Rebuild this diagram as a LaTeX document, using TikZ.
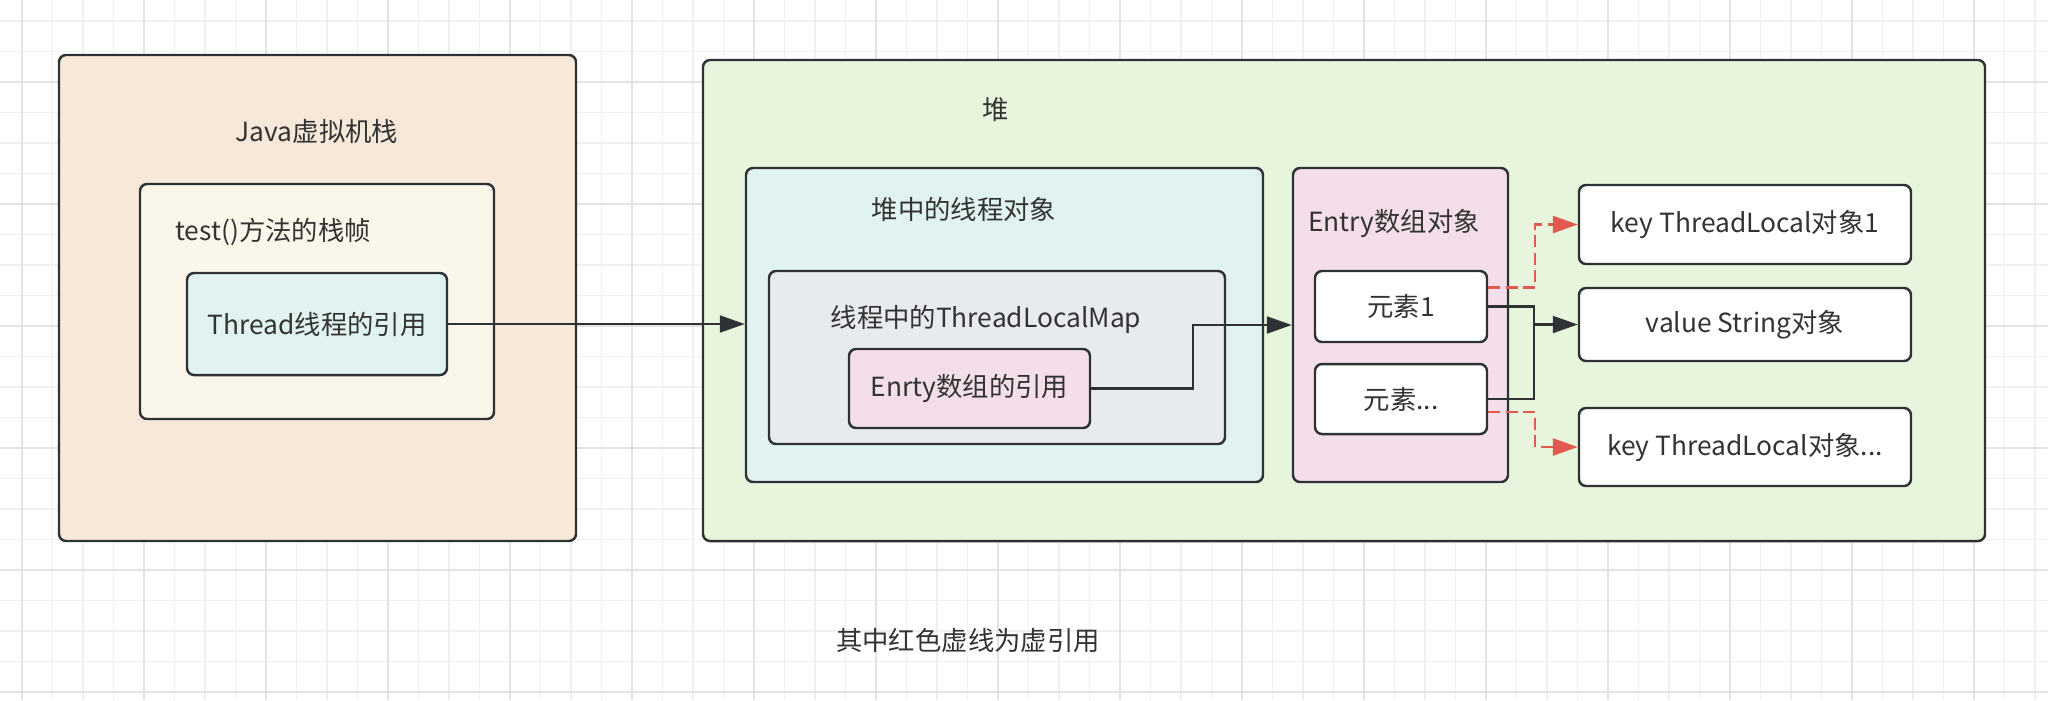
\documentclass[tikz,border=0pt]{standalone}
\usepackage{fontspec}
\setmainfont{Noto Sans CJK SC}
\usetikzlibrary{arrows.meta}
\definecolor{borde}{HTML}{2F3235}
\definecolor{textoGris}{HTML}{333333}
\definecolor{rojoDebil}{HTML}{E05A50}
\definecolor{fondoPila}{HTML}{F7E9DA}
\definecolor{fondoMarco}{HTML}{FAF7EA}
\definecolor{fondoHeap}{HTML}{E7F5DC}
\definecolor{fondoHilo}{HTML}{E0F3F1}
\definecolor{fondoMapa}{HTML}{E7EAEE}
\definecolor{fondoRosa}{HTML}{F3DEEA}
\definecolor{rejillaMenor}{HTML}{F0F0F0}
\definecolor{rejillaMayor}{HTML}{E3E3E3}

\begin{document}
\begin{tikzpicture}[font=\fontsize{7.5}{9}\selectfont, text=textoGris,
        >={Triangle[length=2.5mm, width=1.7mm]},
        caja/.style={draw=borde, line width=0.7pt, rounded corners=2pt, inner sep=0pt},
        conn/.style={->, draw=borde, line width=0.6pt},
        linea/.style={draw=borde, line width=0.6pt},
        debil/.style={->, draw=rojoDebil, line width=0.7pt, dash pattern=on 1.2mm off 0.55mm}]
        \useasboundingbox (0,0) rectangle (20.48,-7);
        \fill[white] (0,0) rectangle (20.48,-7);
        % rejilla de fondo
        \foreach \i in {0,...,66} \draw[rejillaMenor, line width=0.45pt] ({0.22+0.305*\i},0) -- ++(0,-7);
        \foreach \j in {0,...,22} \draw[rejillaMenor, line width=0.45pt] (0,{-0.21-0.305*\j}) -- ++(20.48,0);
        \foreach \i in {0,...,16} \draw[rejillaMayor, line width=0.5pt] ({0.22+1.22*\i},0) -- ++(0,-7);
        \foreach \j in {0,...,5} \draw[rejillaMayor, line width=0.5pt] (0,{-0.82-1.22*\j}) -- ++(20.48,0);

        % pila de la JVM
        \node[caja, fill=fondoPila, minimum width=5.17cm, minimum height=4.86cm] (pila) at (3.175,-2.98) {};
        \node (tPila) at (3.17,-1.31) {Java虚拟机栈};
        \node[caja, fill=fondoMarco, minimum width=3.54cm, minimum height=2.35cm] (marco) at (3.17,-3.015) {};
        \node[anchor=west] (tMarco) at (1.63,-2.32) {test()方法的栈帧};
        \node[caja, fill=fondoHilo, minimum width=2.6cm, minimum height=1.02cm] (tref) at (3.17,-3.24) {Thread线程的引用};

        % heap
        \node[caja, fill=fondoHeap, minimum width=12.82cm, minimum height=4.81cm] (heap) at (13.44,-3.005) {};
        \node (tHeap) at (9.96,-1.10) {堆};
        \node[caja, fill=fondoHilo, minimum width=5.17cm, minimum height=3.14cm] (hilo) at (10.045,-3.25) {};
        \node (tHilo) at (9.64,-2.09) {堆中的线程对象};
        \node[caja, fill=fondoMapa, minimum width=4.56cm, minimum height=1.73cm] (mapa) at (9.97,-3.575) {};
        \node (tMapa) at (9.86,-3.19) {线程中的ThreadLocalMap};
        \node[caja, fill=fondoRosa, minimum width=2.41cm, minimum height=0.79cm] (eref) at (9.695,-3.885) {Enrty数组的引用};
        \node[caja, fill=fondoRosa, minimum width=2.15cm, minimum height=3.14cm] (earr) at (14.005,-3.25) {};
        \node (tEarr) at (13.94,-2.23) {Entry数组对象};
        \node[caja, fill=white, minimum width=1.72cm, minimum height=0.71cm] (el1) at (14.01,-3.065) {元素1};
        \node[caja, fill=white, minimum width=1.72cm, minimum height=0.70cm] (eln) at (14.01,-3.99) {元素...};
        \node[caja, fill=white, minimum width=3.32cm, minimum height=0.79cm] (key1) at (17.45,-2.245) {key ThreadLocal对象1};
        \node[caja, fill=white, minimum width=3.32cm, minimum height=0.73cm] (val) at (17.45,-3.245) {value String对象};
        \node[caja, fill=white, minimum width=3.32cm, minimum height=0.78cm] (keyn) at (17.45,-4.47) {key ThreadLocal对象...};

        \node (nota) at (9.68,-6.40) {其中红色虚线为虚引用};

        % referencias
        \draw[conn] (tref.east) -- (tref.east -| hilo.west);
        \draw[conn] (eref.east) -- ++(1.02,0) |- (earr.west);
        \coordinate (union) at (15.34,-3.245);
        \draw[conn] (el1.east) -| (union) -- (val.west);
        \draw[linea] (eln.east) -| (union);
        \draw[debil] ([yshift=1.9mm]el1.east) -- ++(0.47,0) |- (key1.west);
        \draw[debil] ([yshift=-1.3mm]eln.east) -- ++(0.47,0) |- (keyn.west);
    \end{tikzpicture}
\end{document}
